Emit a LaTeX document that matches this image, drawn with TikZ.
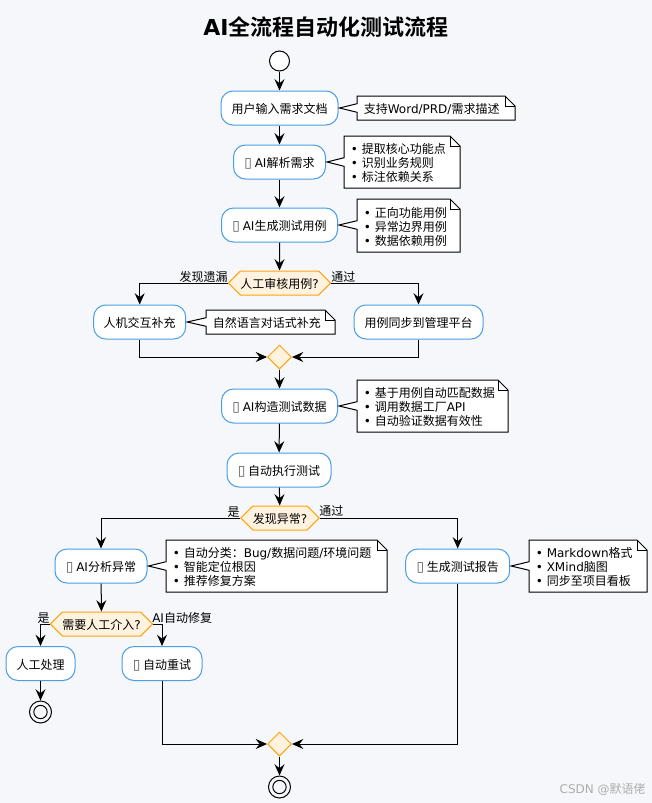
\documentclass[tikz,border=0pt]{standalone}
\usepackage{fontspec}
\usepackage{tikz}
\usetikzlibrary{arrows.meta,shapes.geometric,shapes.symbols}
\setmainfont{DejaVu Sans}
\newfontfamily\cjk{Noto Sans CJK SC}
\newfontfamily\cjkbold[Scale=1]{Noto Sans CJK SC Bold}
\newcommand{\lat}[1]{{\rmfamily #1}}
\newcommand{\tofu}{\lat{\textcolor{black!65}{\scalebox{1.15}{▯}}}\ }
\newcommand{\bul}{\makebox[8.25pt][l]{\lat{•}}}
\definecolor{pagebg}{HTML}{F5F7FB}
\definecolor{actyline}{HTML}{4A9EE6}
\definecolor{branchline}{HTML}{FFA20F}
\definecolor{branchfill}{HTML}{FFF3E0}
\tikzset{
  notetxt/.style={font=\cjk\fontsize{9}{10.5}\selectfont, inner sep=0pt},
  txt/.style={notetxt, text height=8.3pt, text depth=0pt},
  acty/.style={txt, draw=actyline, fill=white, rounded corners=9pt, minimum height=25.5pt, line width=0.75pt},
  branch/.style={txt, draw=branchline, fill=branchfill, shape=signal, signal to=east and west,
    signal pointer angle=90, minimum height=18pt, line width=0.75pt},
  merge/.style={draw=branchline, fill=branchfill, shape=diamond, minimum size=18pt, inner sep=0pt, line width=0.75pt},
  flow/.style={-{Stealth[length=8.5pt,width=7.5pt,inset=3pt]}, line width=0.75pt},
  notepath/.style={draw=black, fill=white, line width=0.75pt},
  startdot/.style={circle, draw=black, fill=white, minimum size=15pt, inner sep=0pt, line width=0.75pt},
  stopdot/.style={circle, draw=black, minimum size=16.5pt, inner sep=0pt, line width=0.75pt},
}
% note: name, left, top, right, bottom, activity, text
\newcommand{\notebox}[7]{
  \coordinate (#1-l) at (#2,#3);
  \draw[notepath] (#2,#3) -- (#4-10,#3) -- (#4,#3+10) -- (#4,#5) -- (#2,#5)
    -- ([yshift=-3.2pt]#1-l |- #6.east) -- ([xshift=0.75pt]#6.east) -- ([yshift=3.2pt]#1-l |- #6.east) -- cycle;
  \draw[line width=0.75pt] (#4-10,#3) -- (#4-10,#3+10) -- (#4,#3+10);
  \node[notetxt, anchor=west, align=left] (#1) at (#2+6.5,#3/2+#5/2+1) {#7};
}
\begin{document}
\begin{tikzpicture}[x=0.75pt,y=-0.75pt]
  \useasboundingbox (0,0) rectangle (652,803);
  \fill[pagebg] (0,0) rectangle (652,803);
  % Title
  \node[inner sep=0pt, font=\fontsize{16.5}{20}\selectfont] (title) at (326,27) {\textbf{AI}{\cjkbold 全流程自动化测试流程}};
  % Main column
  \node[startdot] (start) at (279.5,61) {};
  \node[acty, minimum width=87.75pt] (input) at (279.5,108) {用户输入需求文档};
  \node[acty, minimum width=69pt] (parse) at (279.5,162) {\tofu\lat{AI}解析需求};
  \node[acty, minimum width=87pt] (cases) at (279.5,225) {\tofu\lat{AI}生成测试用例};
  \node[branch, minimum width=75.75pt] (review) at (279.5,283) {人工审核用例\lat{?}};
  \node[acty, minimum width=69pt] (chat) at (139.7,322) {人机交互补充};
  \node[acty, minimum width=96.75pt] (sync) at (418.5,322) {用例同步到管理平台};
  \node[merge] (joina) at (279.5,357) {};
  \node[acty, minimum width=87pt] (data) at (279.5,406) {\tofu\lat{AI}构造测试数据};
  \node[acty, minimum width=78pt] (run) at (279,470) {\tofu 自动执行测试};
  \node[branch, minimum width=58.5pt] (fail) at (280,518) {发现异常\lat{?}};
  % Failure side
  \node[acty, minimum width=69pt] (analyse) at (101,566) {\tofu\lat{AI}分析异常};
  \node[branch, minimum width=75.75pt] (human) at (101.5,624) {需要人工介入\lat{?}};
  \node[acty, minimum width=51.75pt] (manual) at (40.5,663.5) {人工处理};
  \node[acty, minimum width=60pt] (retry) at (162,663.5) {\tofu 自动重试};
  \node[stopdot] (stopa) at (40.5,712) {};
  \node[circle, draw=black, minimum size=10pt, inner sep=0pt, line width=0.75pt] (stopa-in) at (stopa) {};
  % Report side
  \node[acty, minimum width=78pt] (report) at (457.7,566) {\tofu 生成测试报告};
  \node[merge] (joinb) at (279.5,744) {};
  \node[stopdot] (stopb) at (279.5,787) {};
  \node[circle, draw=black, minimum size=10pt, inner sep=0pt, line width=0.75pt] (stopb-in) at (stopb) {};
  % Notes
  \notebox{noteinput}{357}{96}{515}{120}{input}{支持\lat{Word/PRD/}需求描述}
  \notebox{noteparse}{344}{136}{460}{188}{parse}{\bul 提取核心功能点\\\bul 识别业务规则\\\bul 标注依赖关系}
  \notebox{notecases}{357}{199}{460}{252}{cases}{\bul 正向功能用例\\\bul 异常边界用例\\\bul 数据依赖用例}
  \notebox{notechat}{206}{310}{335}{334}{chat}{自然语言对话式补充}
  \notebox{notedata}{357}{380}{508}{432}{data}{\bul 基于用例自动匹配数据\\\bul 调用数据工厂\lat{API}\\\bul 自动验证数据有效性}
  \notebox{noteanalyse}{166}{540}{387}{592}{analyse}{\bul 自动分类：\lat{Bug/}数据问题\lat{/}环境问题\\\bul 智能定位根因\\\bul 推荐修复方案}
  \notebox{notereport}{529}{540}{647}{592}{report}{\bul \lat{Markdown}格式\\\bul \lat{XMind}脑图\\\bul 同步至项目看板}
  % Connectors
  \draw[flow] (start) -- (input);
  \draw[flow] (input) -- (parse);
  \draw[flow] (parse) -- (cases);
  \draw[flow] (cases) -- (review);
  \draw[flow] (review.west) -| (chat.north);
  \draw[flow] (review.east) -| (sync.north);
  \draw[flow] (chat.south) |- (joina.west);
  \draw[flow] (sync.south) |- (joina.east);
  \draw[flow] (joina) -- (data);
  \draw[flow] (data) -- (run);
  \draw[flow] (run) -- (fail);
  \draw[flow] (fail.west) -| (analyse.north);
  \draw[flow] (fail.east) -| (report.north);
  \draw[flow] (analyse) -- (human);
  \draw[flow] (human.west) -| (manual.north);
  \draw[flow] (human.east) -| (retry.north);
  \draw[flow] (manual) -- (stopa);
  \draw[flow] (retry.south) |- (joinb.west);
  \draw[flow] (report.south) |- (joinb.east);
  \draw[flow] (joinb) -- (stopb);
  % Branch labels
  \node[txt, anchor=east] (lblmiss) at (228,276) {发现遗漏};
  \node[txt, anchor=west] (lblpass) at (331,276) {通过};
  \node[txt, anchor=east] (lblyes) at (240,511) {是};
  \node[txt, anchor=west] (lblok) at (319,510) {通过};
  \node[txt, anchor=east] (lblhuman) at (50,617) {是};
  \node[txt, anchor=west] (lblauto) at (152,617) {\lat{AI}自动修复};
  % Watermark
  \node[notetxt, anchor=east, text=black!32] (mark) at (646,789) {\lat{CSDN @}默语佬};
\end{tikzpicture}
\end{document}
